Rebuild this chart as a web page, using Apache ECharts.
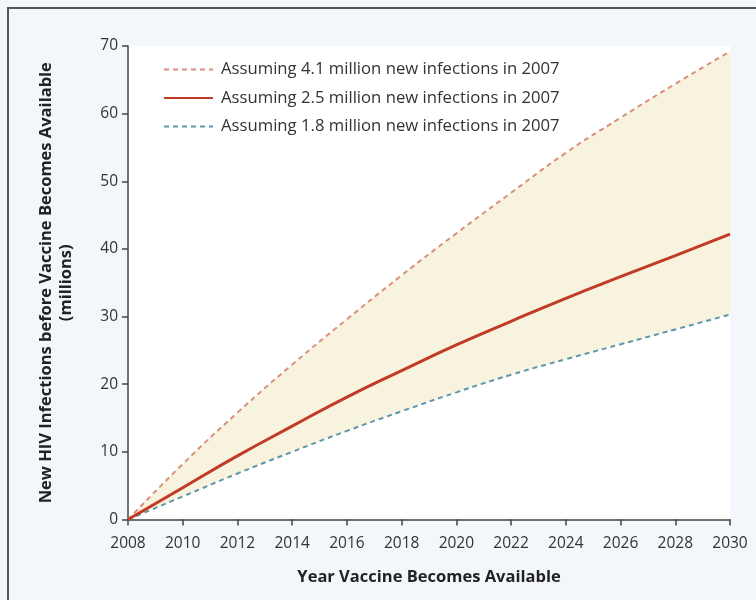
<!DOCTYPE html>
<html>
<head>
<meta charset="utf-8">
<script src="https://cdn.jsdelivr.net/npm/echarts@6/dist/echarts.min.js"></script>
<style>
html,body{margin:0;padding:0;background:#f3f6fa;}
#chart{width:756px;height:600px;}
</style>
</head>
<body>
<div id="chart"></div>
<script>
var years = ['2008', '2010', '2012', '2014', '2016', '2018', '2020', '2022', '2024', '2026', '2028', '2030'];
var high41 = [0, 8.2, 15.8, 22.9, 29.6, 36.1, 42.3, 48.3, 54.2, 59.4, 64.4, 69.2];
var mid25  = [0, 4.7, 9.4, 13.8, 18.1, 22.0, 25.8, 29.3, 32.7, 35.9, 39.0, 42.2];
var low18  = [0, 3.4, 6.8, 10.0, 13.1, 16.0, 18.8, 21.4, 23.7, 25.9, 28.1, 30.3];
var seriesNames = [
  'Assuming 4.1 million new infections in 2007',
  'Assuming 2.5 million new infections in 2007',
  'Assuming 1.8 million new infections in 2007'
];
var yTicks = [0, 10, 20, 30, 40, 50, 60, 70];
var xTitle = 'Year Vaccine Becomes Available';
var yTitle = 'New HIV Infections before Vaccine Becomes Available\n(millions)';

var bandVals = high41.map(function(v,i){ return +(v - low18[i]).toFixed(2); });

var FONT = '"Open Sans", "Noto Sans", sans-serif';
var chart = echarts.init(document.getElementById('chart'));
chart.setOption({
  backgroundColor: '#f3f6fa',
  animation: false,
  textStyle: { fontFamily: FONT },
  graphic: [{
    type: 'polyline',
    shape: { points: [[8, 600], [8, 8], [756, 8]] },
    style: { stroke: '#555', lineWidth: 2, fill: null },
    z: 100
  }],
  grid: {
    left: 128, top: 46, width: 602, height: 473.5,
    show: true, backgroundColor: '#ffffff', borderWidth: 0
  },
  legend: {
    orient: 'vertical',
    left: 163, top: 61, padding: 0,
    itemWidth: 49, itemHeight: 14, itemGap: 11.5,
    data: seriesNames,
    itemStyle: { opacity: 0 },
    textStyle: { fontSize: 16.7, color: '#333', fontFamily: FONT, padding: [0,0,0,3] }
  },
  xAxis: {
    type: 'category', data: years, boundaryGap: false,
    name: xTitle, nameLocation: 'middle', nameGap: 49,
    nameTextStyle: { fontSize: 16.5, fontWeight: 'bold', color: '#222', fontFamily: FONT },
    axisLine: { show: true, onZero: false, lineStyle: { color: '#444', width: 1.5 } },
    axisTick: { show: true, length: 6, interval: 0, alignWithLabel: true, lineStyle: { color: '#444', width: 1.5 } },
    axisLabel: { fontSize: 15.5, color: '#333', margin: 16, interval: 0, fontFamily: FONT },
    splitLine: { show: false }
  },
  yAxis: {
    type: 'value', min: 0, max: 70, interval: 10,
    name: yTitle, nameLocation: 'middle', nameGap: 52,
    nameTextStyle: { fontSize: 16.5, fontWeight: 'bold', color: '#222', lineHeight: 20, fontFamily: FONT },
    axisLine: { show: true, lineStyle: { color: '#444', width: 1.5 } },
    axisTick: { show: true, length: 6, lineStyle: { color: '#444', width: 1.5 } },
    axisLabel: { fontSize: 15.5, color: '#333', margin: 10, fontFamily: FONT,
      formatter: function(v){ return yTicks.indexOf(v) >= 0 ? String(v) : ''; } },
    splitLine: { show: false }
  },
  series: [
    { name: 'base', type: 'line', stack: 'band', data: low18, smooth: true,
      symbol: 'none', lineStyle: { opacity: 0 }, silent: true, z: 1 },
    { name: 'bandfill', type: 'line', stack: 'band', data: bandVals, smooth: true,
      symbol: 'none', lineStyle: { opacity: 0 }, areaStyle: { color: '#f7f3df', opacity: 1 }, silent: true, z: 1 },
    { name: seriesNames[0], type: 'line', data: high41, smooth: true, symbol: 'none',
      itemStyle: { color: '#d9907c' },
      lineStyle: { color: '#d9907c', width: 2, type: [5, 4] }, z: 3 },
    { name: seriesNames[1], type: 'line', data: mid25, smooth: true, symbol: 'none',
      itemStyle: { color: '#c23b26' },
      lineStyle: { color: '#c23b26', width: 3 }, z: 4 },
    { name: seriesNames[2], type: 'line', data: low18, smooth: true, symbol: 'none',
      itemStyle: { color: '#5e96ad' },
      lineStyle: { color: '#5e96ad', width: 2, type: [5, 4] }, z: 3 }
  ]
});
</script>
</body>
</html>
